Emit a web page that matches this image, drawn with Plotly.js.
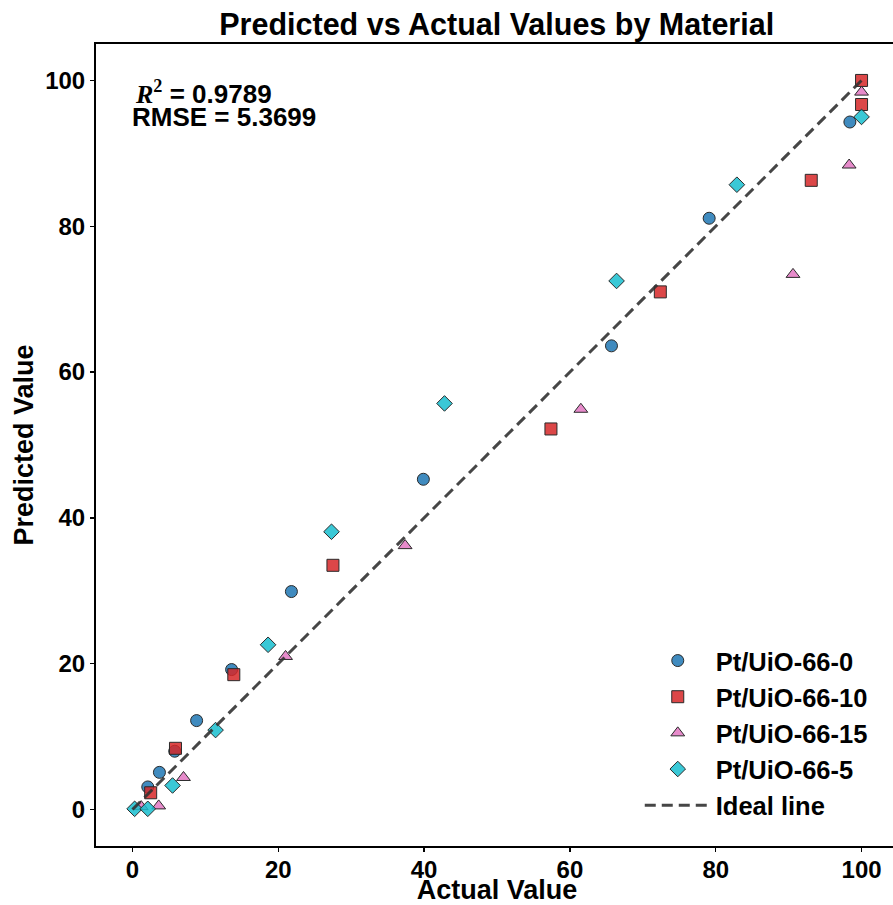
<!DOCTYPE html>
<html>
<head>
<meta charset="utf-8">
<script src="https://cdn.plot.ly/plotly-3.0.1.min.js"></script>
<style>
html, body { margin: 0; padding: 0; overflow: hidden; background: #fff; }
#chart { width: 899px; height: 905px; }
</style>
</head>
<body>
<div id="chart"></div>
<script>
// ---- data ----
const names = ["Pt/UiO-66-0", "Pt/UiO-66-10", "Pt/UiO-66-15", "Pt/UiO-66-5"];

const actual0    = [2.1, 3.7, 5.8, 8.8, 13.6, 21.8, 39.9, 65.7, 79.1, 98.4];
const predicted0 = [3.1, 5.1, 8.0, 12.2, 19.2, 29.9, 45.3, 63.6, 81.1, 94.3];

const actual10    = [2.5, 5.9, 13.9, 27.5, 57.4, 72.4, 93.1, 100, 100];
const predicted10 = [2.3, 8.4, 18.5, 33.5, 52.2, 71.0, 86.3, 96.7, 100];

const actual15    = [1.2, 3.6, 7.0, 21.0, 37.4, 61.5, 90.6, 98.3, 100];
const predicted15 = [0.4, 0.5, 4.4, 21.0, 36.2, 54.9, 73.4, 88.4, 98.4];

const actual5    = [0.3, 2.1, 5.5, 11.4, 18.6, 27.3, 42.8, 66.4, 82.9, 100];
const predicted5 = [0.1, 0.1, 3.3, 10.9, 22.6, 38.1, 55.7, 72.5, 85.7, 95.0];

const idealX = [0, 100];
const idealY = [0, 100];

const r2Text = "0.9789";
const rmseText = "5.3699";

// ---- styling ----
const colors = ["rgba(31,119,180,0.85)", "rgba(214,39,40,0.85)", "rgba(227,119,194,0.85)", "rgba(23,190,207,0.85)"];
const symbols = ["circle", "square", "triangle-up", "diamond"];
const sizes = [12, 12, 12, 12];
const xs = [actual0, actual10, actual15, actual5];
const ys = [predicted0, predicted10, predicted15, predicted5];

const FONT = "Liberation Sans, Arial, sans-serif";

const traces = names.map((n, i) => ({
  type: "scatter",
  mode: "markers",
  name: n,
  x: xs[i],
  y: ys[i],
  legendgroup: "g" + i,
  marker: {
    symbol: symbols[i],
    size: sizes[i],
    color: colors[i],
    line: { color: "#2a2a2a", width: 1 }
  }
}));

traces.push({
  type: "scatter",
  mode: "lines",
  name: "Ideal line",
  x: idealX,
  y: idealY,
  legendgroup: "g4",
  line: { color: "rgba(50,50,50,0.9)", width: 3, dash: "11px,6px" }
});

const axisCommon = {
  range: [-5, 105],
  tickvals: [0, 20, 40, 60, 80, 100],
  showgrid: false,
  zeroline: false,
  showline: true,
  mirror: true,
  linecolor: "#000",
  linewidth: 2,
  ticks: "outside",
  ticklen: 4,
  tickwidth: 1.5,
  tickcolor: "#000",
  tickfont: { family: FONT, size: 24, color: "#000", weight: 700 }
};

const layout = {
  width: 899,
  height: 905,
  margin: { l: 95.5, r: 0.5, t: 43.5, b: 58.5 },
  paper_bgcolor: "#fff",
  plot_bgcolor: "#fff",
  font: { family: FONT, color: "#000" },
  title: {
    text: "Predicted vs Actual Values by Material",
    font: { family: FONT, size: 30.5, color: "#000", weight: 700 },
    x: 0.5525, xanchor: "center",
    y: 0.973, yanchor: "middle"
  },
  xaxis: Object.assign({}, axisCommon, {
    ticklabelstandoff: -3,
    title: { text: "Actual Value", font: { family: FONT, size: 27, color: "#000", weight: 700 }, standoff: 10 }
  }),
  yaxis: Object.assign({}, axisCommon, {
    title: { text: "Predicted Value", font: { family: FONT, size: 27, color: "#000", weight: 700 }, standoff: 4 }
  }),
  showlegend: true,
  legend: {
    x: 0.678, xanchor: "left",
    y: 0.26, yanchor: "top",
    bgcolor: "rgba(255,255,255,0)",
    borderwidth: 0,
    font: { family: FONT, size: 25.5, color: "#000", weight: 700 },
    tracegroupgap: 0,
    itemwidth: 66
  },
  annotations: [
    {
      xref: "paper", yref: "paper",
      x: 0.046, y: 0.9395, xanchor: "left", yanchor: "middle",
      showarrow: false,
      text: "<span style=\"font-family:'Liberation Serif',serif;\"><i>R</i><sup>2</sup></span> = " + r2Text,
      font: { family: FONT, size: 26, color: "#000", weight: 700 }
    },
    {
      xref: "paper", yref: "paper",
      x: 0.043, y: 0.9095, xanchor: "left", yanchor: "middle",
      showarrow: false,
      text: "RMSE = " + rmseText,
      font: { family: FONT, size: 26, color: "#000", weight: 700 }
    }
  ]
};

Plotly.newPlot("chart", traces, layout, { displayModeBar: false, staticPlot: true });
</script>
</body>
</html>
